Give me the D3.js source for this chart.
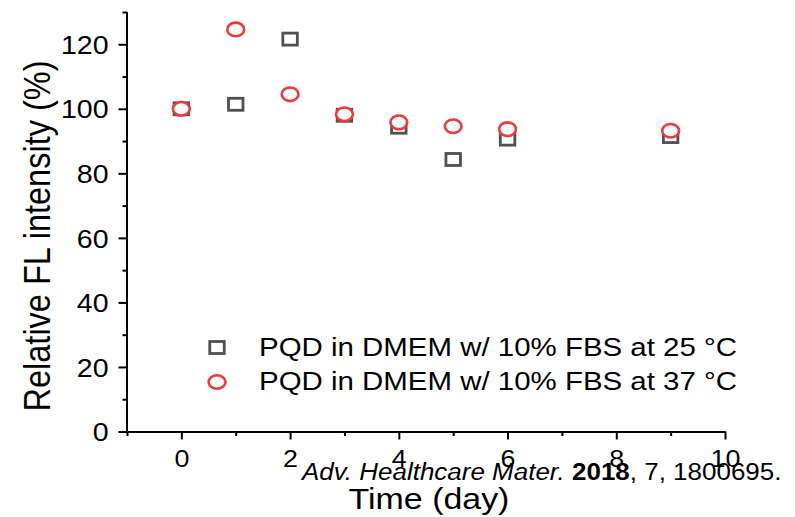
<!DOCTYPE html>
<html>
<head>
<meta charset="utf-8">
<script src="https://cdn.jsdelivr.net/npm/d3@7"></script>
<style>
  html, body { margin: 0; padding: 0; background: #fff; }
  svg { display: block; font-family: "Liberation Sans", Arial, sans-serif; }
</style>
</head>
<body>
<svg id="chart" width="795" height="517"></svg>
<script>
// Time points (days) and relative fluorescence intensity (%) for each condition
const days = [0, 1, 2, 3, 4, 5, 6, 9];
const pqd25 = [100, 101.4, 121.6, 98.0, 94.3, 84.3, 90.6, 91.4];
const pqd37 = [100, 124.6, 104.5, 98.3, 95.8, 94.6, 93.7, 93.2];

const seriesNames = [
  "PQD in DMEM w/ 10% FBS at 25 \u00B0C",
  "PQD in DMEM w/ 10% FBS at 37 \u00B0C"
];

const xMajorTicks = [0, 2, 4, 6, 8, 10];
const xMinorTicks = [-1, 1, 3, 5, 7, 9];
const yMajorTicks = [0, 20, 40, 60, 80, 100, 120];
const yMinorTicks = [10, 30, 50, 70, 90, 110, 130];

const xTitle = "Time (day)";
const yTitle = "Relative FL intensity (%)";

// Text is drawn slightly wide, as in the original figure
const SX = 1.12;
const squareColor = "#505050";
const circleColor = "#ee3a3d";

const svg = d3.select("#chart");

const x = d3.scaleLinear().domain([-1, 10]).range([127, 725]);
const y = d3.scaleLinear().domain([0, 130]).range([431.5, 12]);

// Axes: major ticks with labels, minor ticks without
function styleAxis(g) {
  g.select(".domain").attr("stroke", "#000").attr("stroke-width", 2);
  g.selectAll(".tick line").attr("stroke", "#000").attr("stroke-width", 2);
}

const xAxisG = svg.append("g").attr("transform", `translate(0,${y(0)})`);
xAxisG.call(d3.axisBottom(x).tickValues(xMajorTicks).tickSize(8).tickSizeOuter(0).tickPadding(10).tickFormat(d3.format("d")));
styleAxis(xAxisG);
xAxisG.selectAll(".tick text")
  .attr("font-size", 24).attr("fill", "#000")
  .attr("font-family", "Liberation Sans, Arial, sans-serif")
  .attr("dy", "0.71em")
  .attr("transform", `scale(${SX},1)`);

const xMinorG = svg.append("g").attr("transform", `translate(0,${y(0)})`);
xMinorG.call(d3.axisBottom(x).tickValues(xMinorTicks).tickSize(4.5).tickSizeOuter(0).tickFormat(""));
xMinorG.select(".domain").remove();
styleAxis(xMinorG);

const yAxisG = svg.append("g").attr("transform", `translate(${x(-1)},0)`);
yAxisG.call(d3.axisLeft(y).tickValues(yMajorTicks).tickSize(8.5).tickSizeOuter(0).tickPadding(8).tickFormat(d3.format("d")));
styleAxis(yAxisG);
yAxisG.selectAll(".tick text")
  .attr("font-size", 25.5).attr("fill", "#000")
  .attr("font-family", "Liberation Sans, Arial, sans-serif")
  .attr("dy", "0.36em")
  .attr("transform", `scale(${SX},1)`);

const yMinorG = svg.append("g").attr("transform", `translate(${x(-1)},0)`);
yMinorG.call(d3.axisLeft(y).tickValues(yMinorTicks).tickSize(4.5).tickSizeOuter(0).tickFormat(""));
yMinorG.select(".domain").remove();
styleAxis(yMinorG);

// Extend the y axis line up to the top minor tick
yAxisG.select(".domain").attr("d", `M0,${y(130)}V${y(0)}`);

// Marker shapes
const SQ_W = 14.5, SQ_H = 12;
const CI_RX = 8.4, CI_RY = 6.8;

function drawSquare(g, cx, cy) {
  g.append("rect")
    .attr("x", cx - SQ_W / 2).attr("y", cy - SQ_H / 2)
    .attr("width", SQ_W).attr("height", SQ_H)
    .attr("fill", "#fff").attr("stroke", squareColor).attr("stroke-width", 2.8);
}
function drawCircle(g, cx, cy) {
  g.append("ellipse")
    .attr("cx", cx).attr("cy", cy).attr("rx", CI_RX).attr("ry", CI_RY)
    .attr("fill", "#fff").attr("stroke", circleColor).attr("stroke-width", 2.6);
}

const marks = svg.append("g");
days.forEach((d, i) => drawSquare(marks, x(d), y(pqd25[i])));
days.forEach((d, i) => drawCircle(marks, x(d), y(pqd37[i])));

// Legend
const legend = svg.append("g");
const legendRows = [
  { name: seriesNames[0], draw: drawSquare, cy: 347.5, base: 356 },
  { name: seriesNames[1], draw: drawCircle, cy: 382, base: 390 }
];
legendRows.forEach(r => {
  r.draw(legend, 217, r.cy);
  legend.append("text")
    .attr("transform", `translate(259,${r.base}) scale(${SX},1)`)
    .attr("font-size", 26.3).attr("fill", "#000")
    .text(r.name);
});

// Axis titles
svg.append("text")
  .attr("transform", `translate(429,509) scale(1.17,1)`)
  .attr("text-anchor", "middle").attr("font-size", 29).attr("fill", "#000")
  .text(xTitle);

svg.append("text")
  .attr("transform", `translate(50,236) scale(${SX},1) rotate(-90)`)
  .attr("text-anchor", "middle").attr("font-size", 32.5).attr("fill", "#000")
  .text(yTitle);

// Citation
const cite = svg.append("text")
  .attr("transform", `translate(302,480) scale(${SX},1)`)
  .attr("font-size", 23.2).attr("fill", "#000");
cite.append("tspan").attr("font-style", "italic").text("Adv. Healthcare Mater. ");
cite.append("tspan").attr("font-weight", "bold").text("2018");
cite.append("tspan").text(", 7, 1800695.");
</script>
</body>
</html>
